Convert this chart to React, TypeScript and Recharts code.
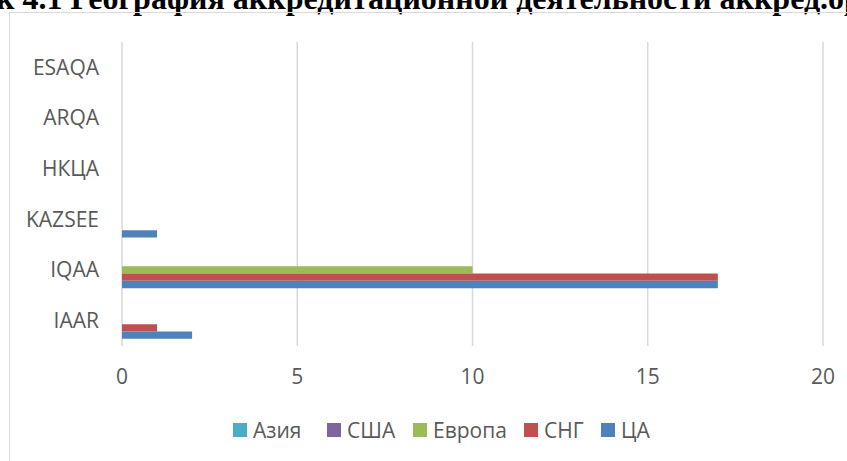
import { BarChart, Bar, XAxis, YAxis, CartesianGrid, Legend } from "recharts";

const categories = ["ESAQA", "ARQA", "НКЦА", "KAZSEE", "IQAA", "IAAR"];
const asia = [0, 0, 0, 0, 0, 0];
const usa = [0, 0, 0, 0, 0, 0];
const europe = [0, 0, 0, 0, 10, 0];
const cis = [0, 0, 0, 0, 17, 1];
const centralAsia = [0, 0, 0, 1, 17, 2];
const xTicks = [0, 5, 10, 15, 20];

const series = [
  { key: "asia", name: "Азия", color: "#4BACC6", values: asia },
  { key: "usa", name: "США", color: "#8064A2", values: usa },
  { key: "europe", name: "Европа", color: "#9BBB59", values: europe },
  { key: "cis", name: "СНГ", color: "#C0504D", values: cis },
  { key: "ca", name: "ЦА", color: "#4F81BD", values: centralAsia },
];

const data = categories.map((name, i) => {
  const row: Record<string, string | number> = { name };
  series.forEach((s) => {
    row[s.key] = s.values[i];
  });
  return row;
});

const font = "'Open Sans', 'Noto Sans', sans-serif";

// left edge of each legend swatch, as in the original layout
const legendX = [233, 327, 413, 524, 601];

const LegendContent = () => (
  <div
    style={{
      position: "relative",
      height: 20,
      fontFamily: font,
      fontSize: 21,
      color: "#595959",
      lineHeight: "20px",
    }}
  >
    {series.map((s, i) => (
      <div
        key={s.key}
        style={{ position: "absolute", left: legendX[i], top: 0, display: "flex", alignItems: "center", whiteSpace: "nowrap" }}
      >
        <span style={{ width: 14, height: 14, background: s.color, marginRight: 6, display: "inline-block" }} />
        <span>{s.name}</span>
      </div>
    ))}
  </div>
);

export default function App() {
  return (
    <div
      style={{
        position: "absolute",
        left: 0,
        top: 0,
        width: 847,
        height: 461,
        overflow: "hidden",
        background: "#fff",
      }}
    >
      <svg width={847} height={30} style={{ position: "absolute", left: 0, top: 0 }}>
        <text
          x={-4}
          y={9}
          fontFamily="'Liberation Serif', serif"
          fontWeight="bold"
          fontSize={32}
          fill="#000"
        >
          к 4.1 География аккредитационной деятельности аккред.организаций
        </text>
      </svg>
      <div
        style={{
          position: "absolute",
          left: 9,
          top: 12,
          width: 900,
          height: 500,
          border: "1.5px solid #d9d9d9",
        }}
      />
      <div style={{ position: "absolute", left: 0, top: 0 }}>
        <BarChart
          width={847}
          height={461}
          data={data}
          layout="vertical"
          margin={{ top: 42, right: 24, left: 0, bottom: 35 }}
          barGap={0}
          barSize={7.3}
        >
          <CartesianGrid horizontal={false} stroke="#d9d9d9" strokeWidth={1.5} />
          <XAxis
            type="number"
            domain={[0, 20]}
            ticks={xTicks}
            axisLine={false}
            tickLine={false}
            tickSize={0}
            tickMargin={23}
            height={60}
            tick={{ fill: "#595959", fontSize: 21, fontFamily: font }}
          />
          <YAxis
            type="category"
            dataKey="name"
            width={122}
            axisLine={false}
            tickLine={false}
            tickSize={0}
            tickMargin={23}
            tick={{ fill: "#595959", fontSize: 21, fontFamily: font }}
          />
          <Legend
            content={<LegendContent />}
            wrapperStyle={{ top: 420, bottom: "auto", left: 0, width: 847 }}
          />
          {series.map((s) => (
            <Bar key={s.key} dataKey={s.key} name={s.name} fill={s.color} isAnimationActive={false} />
          ))}
        </BarChart>
      </div>
    </div>
  );
}
